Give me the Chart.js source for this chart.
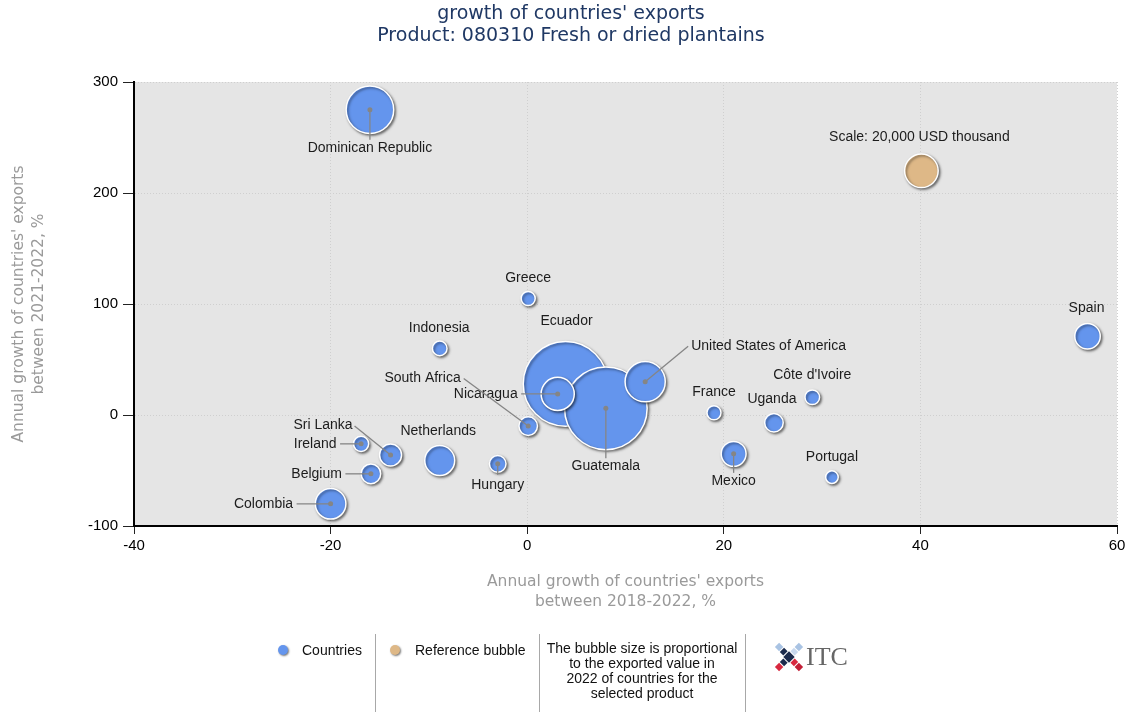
<!DOCTYPE html>
<html>
<head>
<meta charset="utf-8">
<title>growth of countries' exports - 080310</title>
<script src="https://cdn.jsdelivr.net/npm/chart.js@4.4.1/dist/chart.umd.min.js"></script>
<style>
    body { margin: 0; background: #fff; }
    #wrap { position: relative; width: 1131px; height: 716px; overflow: hidden; }
    #chart { position: absolute; left: 0; top: 0; }
    .title {
        position: absolute; left: 371px; top: 1px; width: 400px;
        text-align: center; white-space: nowrap;
        font: 19px 'DejaVu Sans', sans-serif; line-height: 22px; color: #1f3864;
    }
    .lg { position: absolute; font: 14px 'Liberation Sans', Arial, sans-serif; color: #111; line-height: 18px; white-space: nowrap; }
    .dot { position: absolute; width: 10px; height: 10px; border-radius: 50%; box-shadow: 1px 1px 2px rgba(0,0,0,0.55); }
    .sep { position: absolute; top: 634px; width: 1px; height: 78px; background: #a8a8a8; }
    .note { position: absolute; left: 540px; top: 641px; width: 204px; text-align: center; font: 14px 'Liberation Sans', Arial, sans-serif; line-height: 15px; color: #111; }
    .itc { position: absolute; left: 806px; top: 642px; font: 26px 'Liberation Serif', serif; color: #666; }
</style>
</head>
<body>
<div id="wrap">
    <canvas id="chart" width="1131" height="716"></canvas>
    <div class="title">growth of countries' exports<br>Product: 080310 Fresh or dried plantains</div>

    <div class="dot" style="left:278px; top:645px; background:#6495ed;"></div>
    <div class="lg" style="left:302px; top:641px;">Countries</div>
    <div class="sep" style="left:375px;"></div>
    <div class="dot" style="left:390px; top:645px; background:#deb887;"></div>
    <div class="lg" style="left:415px; top:641px;">Reference bubble</div>
    <div class="sep" style="left:539px;"></div>
    <div class="note">The bubble size is proportional<br>to the exported value in<br>2022 of countries for the<br>selected product</div>
    <div class="sep" style="left:745px;"></div>
    <svg style="position:absolute; left:772px; top:640px;" width="34" height="34" viewBox="0 0 34 34">
        <g transform="rotate(45 17 17)">
            <rect x="14" y="0" width="6" height="6" fill="#a9c3e3"/>
            <rect x="14" y="7" width="6" height="5" fill="#c8d8ee"/>
            <rect x="22" y="14" width="5" height="6" fill="#d8283f"/>
            <rect x="28" y="14" width="6" height="6" fill="#c21e36"/>
            <rect x="14" y="22" width="6" height="5" fill="#1c2b4d"/>
            <rect x="14" y="28" width="6" height="6" fill="#d8283f"/>
            <rect x="0" y="14" width="6" height="6" fill="#a9c3e3"/>
            <rect x="7" y="14" width="5" height="6" fill="#1c2b4d"/>
            <rect x="13" y="13" width="8" height="8" fill="#1c2b4d"/>
        </g>
    </svg>
    <div class="itc">ITC</div>
</div>

<script>
// ============================================
// Data
// ============================================
const countries = [
    'Ecuador', 'Guatemala', 'Dominican Republic', 'United States of America', 'Nicaragua',
    'Colombia', 'Netherlands', 'Spain', 'Mexico', 'Sri Lanka',
    'Belgium', 'South Africa', 'Uganda', 'Hungary', 'Ireland',
    'Indonesia', "Côte d'Ivoire", 'France', 'Greece', 'Portugal'
];
// annual growth 2018-2022, %
const growth2018_2022 = [3.9, 8.0, -16.0, 12.0, 3.1, -20.0, -8.9, 57.0, 21.0, -13.9,
                         -15.9, 0.1, 25.1, -3.0, -16.9, -8.9, 29.0, 19.0, 0.1, 31.0];
// annual growth 2021-2022, %
const growth2021_2022 = [28, 6, 275, 30, 19, -80, -41, 71, -35, -36,
                         -53, -10, -7, -44, -26, 60, 16, 2, 105, -56];
// exported value 2022, USD thousand
const exports2022 = [126800, 120900, 40100, 28600, 19500, 16600, 15900, 11500, 11000, 8600,
                     6800, 6100, 6100, 4900, 4100, 3800, 3800, 3500, 3500, 2800];

const refLabel = 'Scale: 20,000 USD thousand';
const refX = [40.1];
const refY = [220];
const refValue = [20000];

const xTicks = [-40, -20, 0, 20, 40, 60];
const yTicks = [-100, 0, 100, 200, 300];

// bubble area proportional to value
const REF_RADIUS = 16.8;
function bubbleRadius(v) {
    return REF_RADIUS * Math.sqrt(v / refValue[0]);
}

// label placement relative to the bubble centre (px)
const labelLayout = {
    'Ecuador': { dx: 1, dy: -63 },
    'Guatemala': { dx: 0, dy: 58, line: [0, 50] },
    'Dominican Republic': { dx: 0, dy: 38, line: [0, 30] },
    'United States of America': { dx: 46, dy: -35.5, align: 'left', line: [43, -35.5] },
    'Nicaragua': { dx: -40, dy: 0, align: 'right', line: [-36.5, 0] },
    'Colombia': { dx: -37.5, dy: 0, align: 'right', line: [-34, 0] },
    'Netherlands': { dx: -1.5, dy: -29.5 },
    'Spain': { dx: -1, dy: -28 },
    'Mexico': { dx: 0, dy: 27, line: [0, 19] },
    'Sri Lanka': { dx: -38, dy: -29.5, align: 'right', line: [-36, -29] },
    'Belgium': { dx: -29, dy: 0, align: 'right', line: [-25.5, 0] },
    'South Africa': { dx: -67.5, dy: -47.5, align: 'right', line: [-64.5, -47.5] },
    'Uganda': { dx: -2, dy: -23.5 },
    'Hungary': { dx: 0, dy: 21, line: [0, 11] },
    'Ireland': { dx: -24.5, dy: 0, align: 'right', line: [-21, 0] },
    'Indonesia': { dx: -0.5, dy: -20 },
    "Côte d'Ivoire": { dx: 0, dy: -22.5 },
    'France': { dx: 0, dy: -20.5 },
    'Greece': { dx: 0, dy: -20 },
    'Portugal': { dx: 0, dy: -20 }
};

// ============================================
// Plugins
// ============================================
const plotBackground = {
    id: 'plotBackground',
    beforeDraw(chart) {
        const { ctx, chartArea: a } = chart;
        ctx.save();
        ctx.fillStyle = '#e5e5e5';
        ctx.fillRect(a.left, a.top, a.right - a.left, a.bottom - a.top);
        ctx.restore();
    }
};

const bubbleLabels = {
    id: 'bubbleLabels',
    beforeDatasetsDraw(chart) {
        const ctx = chart.ctx;
        ctx.save();
        ctx.shadowColor = 'rgba(0, 0, 0, 0.5)';
        ctx.shadowBlur = 2.5;
        ctx.shadowOffsetX = 1.5;
        ctx.shadowOffsetY = 1.5;
    },
    afterDatasetsDraw(chart) {
        const ctx = chart.ctx;
        ctx.restore();

        ctx.save();
        ctx.font = '14px "Liberation Sans", Arial, sans-serif';
        ctx.textBaseline = 'middle';
        ctx.fillStyle = '#1c1c1c';
        ctx.strokeStyle = '#858585';
        ctx.lineWidth = 1.3;

        const pts = chart.getDatasetMeta(0).data;
        countries.forEach((name, i) => {
            const p = pts[i];
            const lay = labelLayout[name] || { dx: 0, dy: -20 };
            if (lay.line) {
                ctx.beginPath();
                ctx.moveTo(p.x, p.y);
                ctx.lineTo(p.x + lay.line[0], p.y + lay.line[1]);
                ctx.stroke();
                ctx.beginPath();
                ctx.fillStyle = '#858585';
                ctx.arc(p.x, p.y, 2.5, 0, Math.PI * 2);
                ctx.fill();
                ctx.fillStyle = '#1c1c1c';
            }
            ctx.textAlign = lay.align || 'center';
            ctx.fillText(name, p.x + lay.dx, p.y + lay.dy);
        });

        const r = chart.getDatasetMeta(1).data[0];
        ctx.textAlign = 'center';
        ctx.fillText(refLabel, r.x - 2, r.y - 33.5);
        ctx.restore();
    }
};

// ============================================
// Chart
// ============================================
Chart.defaults.font.family = '"Liberation Sans", Arial, sans-serif';
Chart.defaults.color = '#000';

const axisTitleFont = { family: '"DejaVu Sans", Verdana, sans-serif', size: 15.5, lineHeight: '20px' };

new Chart(document.getElementById('chart'), {
    type: 'bubble',
    data: {
        datasets: [
            {
                label: 'Countries',
                data: countries.map((c, i) => ({ x: growth2018_2022[i], y: growth2021_2022[i], r: bubbleRadius(exports2022[i]) })),
                backgroundColor: '#6495ed',
                borderColor: '#ffffff',
                borderWidth: 1.5
            },
            {
                label: 'Reference bubble',
                data: refX.map((x, i) => ({ x: x, y: refY[i], r: bubbleRadius(refValue[i]) })),
                backgroundColor: '#deb887',
                borderColor: '#ffffff',
                borderWidth: 1.5
            }
        ]
    },
    options: {
        responsive: false,
        animation: false,
        devicePixelRatio: 1,
        events: [],
        layout: { autoPadding: false, padding: { top: 82, right: 14, bottom: 100, left: 0 } },
        plugins: {
            legend: { display: false },
            tooltip: { enabled: false }
        },
        scales: {
            x: {
                type: 'linear',
                min: -40,
                max: 60,
                afterBuildTicks: s => { s.ticks = xTicks.map(v => ({ value: v })); },
                afterFit: s => { s.height = 90; },
                ticks: { font: { size: 15 }, color: '#000', padding: 3 },
                grid: { color: '#cfcfcf', lineWidth: 1, tickLength: 8, tickColor: '#222', tickWidth: 1 },
                border: { color: '#000', width: 2, dash: [1, 2] },
                title: {
                    display: true,
                    text: ["Annual growth of countries' exports", 'between 2018-2022, %'],
                    color: '#9a9a9a',
                    font: axisTitleFont,
                    padding: { top: 0, bottom: 4 }
                }
            },
            y: {
                type: 'linear',
                min: -100,
                max: 300,
                afterBuildTicks: s => { s.ticks = yTicks.map(v => ({ value: v })); },
                afterFit: s => { s.width = 134; },
                ticks: { font: { size: 15 }, color: '#000', padding: 5 },
                grid: { color: '#cfcfcf', lineWidth: 1, tickLength: 11, tickColor: '#222', tickWidth: 1 },
                border: { color: '#000', width: 2, dash: [1, 2] },
                title: {
                    display: true,
                    text: ["Annual growth of countries' exports", 'between 2021-2022, %'],
                    color: '#9a9a9a',
                    font: axisTitleFont,
                    padding: { top: 9, bottom: 0 }
                }
            }
        }
    },
    plugins: [plotBackground, bubbleLabels]
});
</script>
</body>
</html>
